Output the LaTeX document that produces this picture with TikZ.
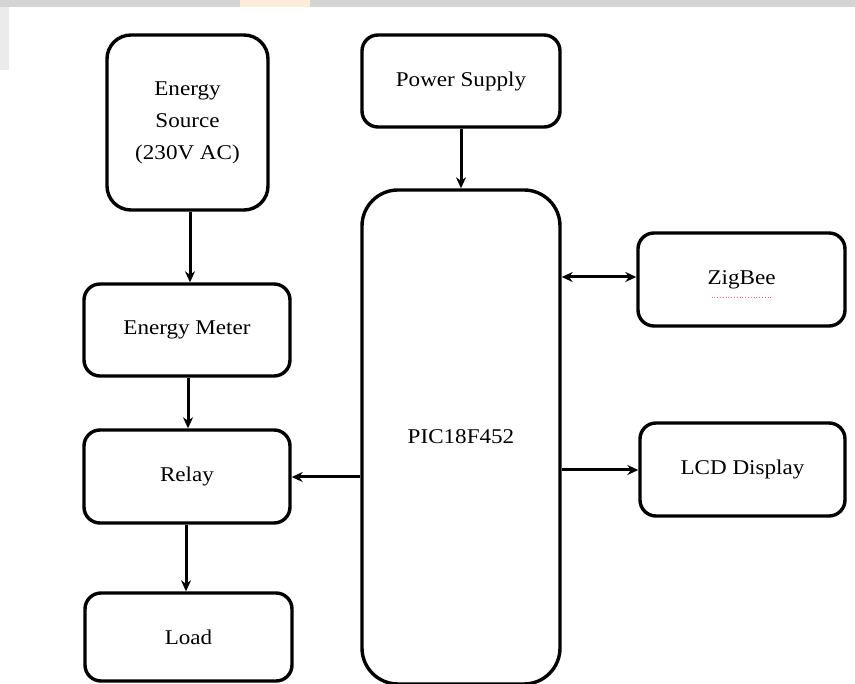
\documentclass[tikz,border=0pt]{standalone}
\usepackage{fontspec}
\setmainfont{Liberation Serif}[FakeStretch=1.1]
\usetikzlibrary{arrows.meta}
\begin{document}
\begin{tikzpicture}[x=1pt,y=-1pt,
  blk/.style={draw=black,line width=3.4pt,rounded corners=16pt,fill=white,align=center,font=\fontsize{21}{32}\selectfont,inner sep=0pt},
  conn/.style={line width=3pt,-{Stealth[length=11pt,width=10pt]}},
  bconn/.style={line width=3pt,{Stealth[length=11pt,width=10pt]}-{Stealth[length=11pt,width=10pt]}}]
\useasboundingbox (0,0) rectangle (855,684);
\fill[white] (0,0) rectangle (855,684);
\fill[black!17] (0,0) rectangle (855,7);
\fill[black!8] (0,7) rectangle (9,70);
\fill[orange!15] (240,0) rectangle (310,7);
\node[blk,minimum width=161pt,minimum height=175pt,rounded corners=24pt] (src) at (187.5,122.5) {Energy\\Source\\(230V AC)};
\node[blk,minimum width=198pt,minimum height=92pt] (ps) at (461,81) {Power Supply};
\node[blk,minimum width=198pt,minimum height=494pt,rounded corners=36pt] (pic) at (461,437) {PIC18F452};
\node[blk,minimum width=207pt,minimum height=93pt] (zig) at (741.5,279.5) {\raisebox{-5pt}[0pt][0pt]{ZigBee}};
\node[blk,minimum width=205pt,minimum height=93pt] (lcd) at (742.5,469.5) {LCD Display};
\node[blk,minimum width=206pt,minimum height=92pt] (em) at (187,330) {Energy Meter};
\node[blk,minimum width=206pt,minimum height=93pt] (rel) at (187,476.5) {Relay};
\node[blk,minimum width=207pt,minimum height=88pt] (load) at (188.5,637) {Load};
\draw[red!60,dotted,line width=0.8pt] ([xshift=-30pt,yshift=-18pt]zig.center) -- ([xshift=30pt,yshift=-18pt]zig.center);
\draw[conn] (src.south -| 190,0) -- (em.north -| 190,0);
\draw[conn] (em.south -| 188,0) -- (rel.north -| 188,0);
\draw[conn] (rel.south -| 186,0) -- (load.north -| 186,0);
\draw[conn] (ps.south) -- (pic.north);
\draw[conn] (pic.west |- 0,477) -- (rel.east |- 0,477);
\draw[bconn] (pic.east |- 0,277) -- (zig.west |- 0,277);
\draw[conn] (pic.east |- 0,470) -- (lcd.west |- 0,470);
\end{tikzpicture}
\end{document}
